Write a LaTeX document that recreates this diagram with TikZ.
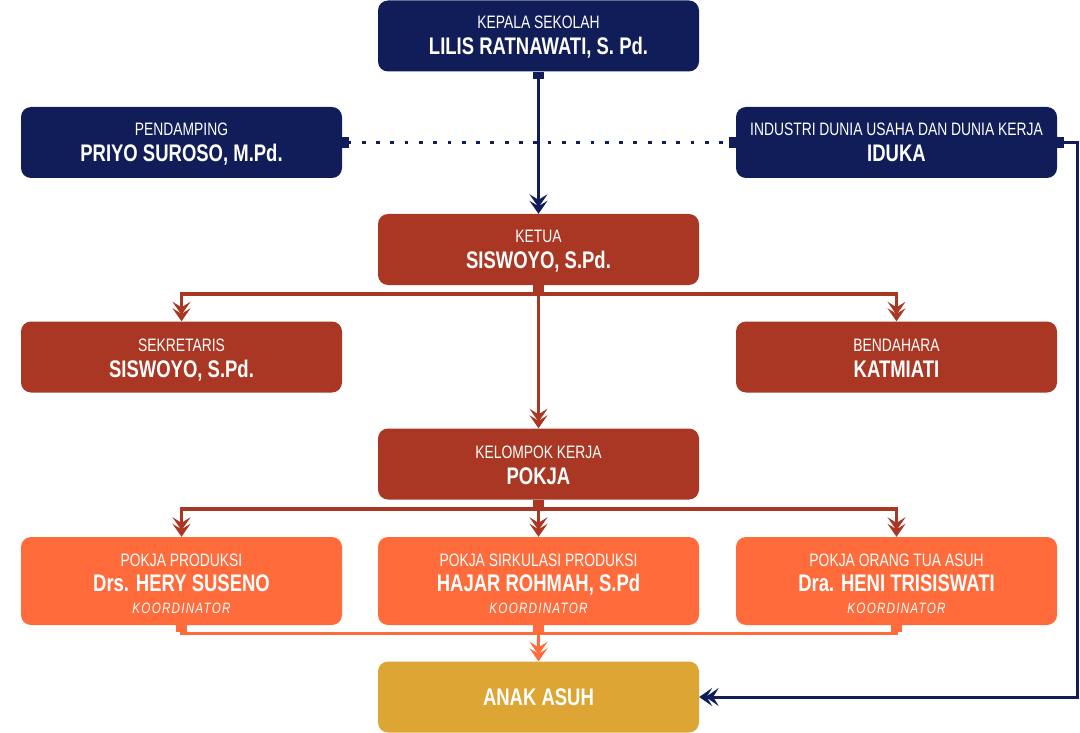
\documentclass[tikz,border=0pt]{standalone}
\usepackage{fontspec}
\setmainfont{Liberation Sans}[FakeStretch=0.77]
\newfontfamily\koordfont{Liberation Sans}[FakeStretch=0.78,LetterSpace=8]
\usetikzlibrary{arrows.meta}
\definecolor{navy}{RGB}{17,29,88}
\definecolor{brick}{RGB}{170,55,35}
\definecolor{tang}{RGB}{255,107,59}
\definecolor{gold}{RGB}{221,165,51}
\begin{document}
\begin{tikzpicture}[x=1pt,y=1pt,
  box/.style={rounded corners=10pt, minimum width=321pt, minimum height=71pt, inner sep=0pt, draw=none},
  tbox/.style={box, minimum height=88pt},
  ttl/.style={anchor=base, text=white, inner sep=0pt, font=\fontsize{18}{20}\selectfont},
  nm/.style={anchor=base, text=white, inner sep=0pt, font=\fontsize{24}{26}\selectfont\bfseries},
  kd/.style={anchor=base, text=white, inner sep=0pt, font=\fontsize{15}{16}\koordfont\itshape},
  dbl/.tip={Stealth[length=13pt,width=18pt,inset=5.5pt,sep=-6.5pt] Stealth[length=13pt,width=18pt,inset=5.5pt]},
  sq/.tip={Square[length=7pt,width=11pt]},
  conn/.style={line width=3.5pt},
]
\useasboundingbox (0,0) rectangle (1080,-733);
% boxes
\node[box, fill=navy] (kepala) at (538.5,-36) {};
\node[ttl] (kepalaT) at (538.5,-29) {KEPALA SEKOLAH};
\node[nm] (kepalaN) at (538.5,-55) {LILIS RATNAWATI, S. Pd.};

\node[box, fill=navy] (pend) at (181.5,-142.5) {};
\node[ttl] (pendT) at (181.5,-136) {PENDAMPING};
\node[nm] (pendN) at (181.5,-162) {PRIYO SUROSO, M.Pd.};

\node[box, fill=navy] (iduka) at (896.5,-142.5) {};
\node[ttl] (idukaT) at (896.5,-136) {INDUSTRI DUNIA USAHA DAN DUNIA KERJA};
\node[nm] (idukaN) at (896.5,-162) {IDUKA};

\node[box, fill=brick] (ketua) at (538.5,-249.5) {};
\node[ttl] (ketuaT) at (538.5,-243) {KETUA};
\node[nm] (ketuaN) at (538.5,-269) {SISWOYO, S.Pd.};

\node[box, fill=brick] (sekr) at (181.5,-357) {};
\node[ttl] (sekrT) at (181.5,-351) {SEKRETARIS};
\node[nm] (sekrN) at (181.5,-377) {SISWOYO, S.Pd.};

\node[box, fill=brick] (bend) at (896.5,-357) {};
\node[ttl] (bendT) at (896.5,-351) {BENDAHARA};
\node[nm] (bendN) at (896.5,-377) {KATMIATI};

\node[box, fill=brick] (pokja) at (538.5,-464) {};
\node[ttl] (pokjaT) at (538.5,-458) {KELOMPOK KERJA};
\node[nm] (pokjaN) at (538.5,-484) {POKJA};

\node[tbox, fill=tang] (prod) at (181.5,-581) {};
\node[ttl] (prodT) at (181.5,-566) {POKJA PRODUKSI};
\node[nm] (prodN) at (181.5,-591) {Drs. HERY SUSENO};
\node[kd] (prodK) at (181.5,-613) {KOORDINATOR};

\node[tbox, fill=tang] (sirk) at (538.5,-581) {};
\node[ttl] (sirkT) at (538.5,-566) {POKJA SIRKULASI PRODUKSI};
\node[nm] (sirkN) at (538.5,-591) {HAJAR ROHMAH, S.Pd};
\node[kd] (sirkK) at (538.5,-613) {KOORDINATOR};

\node[tbox, fill=tang] (orto) at (896.5,-581) {};
\node[ttl] (ortoT) at (896.5,-566) {POKJA ORANG TUA ASUH};
\node[nm] (ortoN) at (896.5,-591) {Dra. HENI TRISISWATI};
\node[kd] (ortoK) at (896.5,-613) {KOORDINATOR};

\node[box, fill=gold] (anak) at (538.5,-697) {};
\node[nm] (anakN) at (538.5,-705) {ANAK ASUH};

% junction coordinates
\coordinate (kj) at (538.5,-294);
\coordinate (pj) at (538.5,-509);
\coordinate (bj) at (538.5,-633);
\coordinate (rt) at (1077,-142.5);

% navy connectors
\draw[conn, navy, {sq}-{dbl}] (kepala.south) -- (ketua.north);
\draw[navy, line width=3.8pt, dash pattern=on 3.8pt off 10.5pt, {sq}-{sq}] (pend.east) -- (iduka.west);
\draw[navy, line width=3pt, {sq}-{dbl}] (iduka.east) -- (rt) |- (anak.east);

% brick connectors
\draw[conn, brick, {sq}-] (ketua.south) -- (kj);
\draw[conn, brick, -{dbl}] (kj) -| (sekr.north);
\draw[conn, brick, -{dbl}] (kj) -| (bend.north);
\draw[conn, brick, -{dbl}] (kj) -- (pokja.north);

\draw[conn, brick, {sq}-] (pokja.south) -- (pj);
\draw[conn, brick, -{dbl}] (pj) -| (prod.north);
\draw[conn, brick, -{dbl}] (pj) -| (orto.north);
\draw[conn, brick, -{dbl}] (pj) -- (sirk.north);

% orange connectors
\draw[tang, line width=3pt, {sq}-] (prod.south) |- (bj);
\draw[tang, line width=3pt, {sq}-] (orto.south) |- (bj);
\draw[tang, line width=3pt, {sq}-{dbl}] (sirk.south) -- (anak.north);
\end{tikzpicture}
\end{document}
